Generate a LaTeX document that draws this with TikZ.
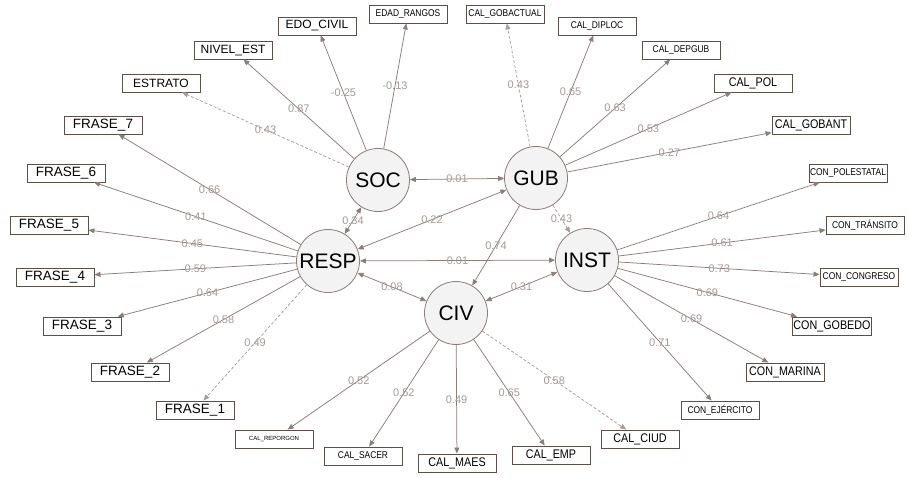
\documentclass[tikz,border=0pt]{standalone}
\usepackage{fontspec}
\setmainfont{Liberation Sans}
\newfontfamily\narrowfont[FakeStretch=0.86]{Liberation Sans}
\usetikzlibrary{arrows.meta}
\definecolor{linec}{HTML}{8C7D78}
\definecolor{boxc}{HTML}{5E4E4A}
\definecolor{coefc}{HTML}{A39A96}
\definecolor{latfill}{HTML}{F3F3F3}
\begin{document}
\begin{tikzpicture}[x=1pt,y=-1pt,
  lat/.style={circle,draw=linec,line width=0.8pt,fill=latfill,minimum size=63pt,inner sep=0pt,font=\fontsize{21}{21}\selectfont},
  obs/.style={rectangle,draw=boxc,line width=0.9pt,fill=white,minimum width=78pt,minimum height=18pt,inner xsep=1pt,inner ysep=0pt},
  fbig/.style={font=\fontsize{13.5}{14}\selectfont},
  fbc/.style={font=\narrowfont\fontsize{12.5}{13}\selectfont},
  fmed/.style={font=\fontsize{12}{12}\selectfont},
  fsm/.style={font=\narrowfont\fontsize{9.8}{10}\selectfont},
  ftiny/.style={font=\fontsize{6}{6}\selectfont},
  ld/.style={draw=linec,line width=0.75pt,-{Triangle[length=6pt,width=5pt]}},
  lb/.style={draw=linec,line width=0.75pt,{Triangle[length=6pt,width=5pt]}-{Triangle[length=6pt,width=5pt]}},
  dsh/.style={dash pattern=on 3pt off 2pt,draw=linec!75},
  coef/.style={font=\fontsize{11}{11}\selectfont,text=coefc,inner sep=0.5pt,midway},
]
\useasboundingbox[fill=white] (0,0) rectangle (909,477);

% latent variables
\node[lat] (SOC)  at (378,180) {SOC};
\node[lat] (GUB)  at (536,178) {GUB};
\node[lat] (RESP) at (328,261) {RESP};
\node[lat] (INST) at (587,260) {INST};
\node[lat] (CIV)  at (456,313) {CIV};

% SOC indicators
\node[obs,fmed] (ESTRATO) at (161,83) {ESTRATO};
\node[obs,fmed] (NIVEL)   at (233,50) {NIVEL\_EST};
\node[obs,fmed] (EDOC)    at (317,26) {EDO\_CIVIL};
\node[obs,fsm]  (EDAD)    at (408,14) {EDAD\_RANGOS};

% GUB indicators
\node[obs,fsm] (GOBACT) at (505,14) {CAL\_GOBACTUAL};
\node[obs,fsm] (DIPLOC) at (597,26) {CAL\_DIPLOC};
\node[obs,fsm] (DEPGUB) at (681,50) {CAL\_DEPGUB};
\node[obs,fbc] (CALPOL) at (753,83) {CAL\_POL};
\node[obs,fbc] (GOBANT) at (811,125) {CAL\_GOBANT};

% RESP indicators
\node[obs,fbig] (F7) at (103,125) {FRASE\_7};
\node[obs,fbig] (F6) at (66,173) {FRASE\_6};
\node[obs,fbig] (F5) at (49,225) {FRASE\_5};
\node[obs,fbig] (F4) at (55,277) {FRASE\_4};
\node[obs,fbig] (F3) at (82,326) {FRASE\_3};
\node[obs,fbig] (F2) at (130,372) {FRASE\_2};
\node[obs,fbig] (F1) at (195,410) {FRASE\_1};

% INST indicators
\node[obs,fsm] (POLEST) at (848,173) {CON\_POLESTATAL};
\node[obs,fsm] (TRANS)  at (865,225) {CON\_TRÁNSITO};
\node[obs,fsm] (CONG)   at (859,277) {CON\_CONGRESO};
\node[obs,fbc] (GOBEDO) at (832,326) {CON\_GOBEDO};
\node[obs,fbc] (MARINA) at (785,372) {CON\_MARINA};
\node[obs,fsm] (EJER)   at (720,410) {CON\_EJÉRCITO};

% CIV indicators
\node[obs,ftiny] (REPORG) at (274,439) {CAL\_REPORGON};
\node[obs,fsm]   (SACER)  at (363,456) {CAL\_SACER};
\node[obs,fbc]   (MAES)   at (457,463) {CAL\_MAES};
\node[obs,fbc]   (EMP)    at (551,455) {CAL\_EMP};
\node[obs,fbc]   (CIUD)   at (640,439) {CAL\_CIUD};

% SOC loadings
\draw[ld,dsh] (SOC) -- node[coef] {0.43} (ESTRATO);
\draw[ld] (SOC) -- node[coef] {0.87} (NIVEL);
\draw[ld] (SOC) -- node[coef] {-0.25} (EDOC);
\draw[ld] (SOC) -- node[coef] {-0.13} (EDAD);

% GUB loadings
\draw[ld,dsh] (GUB) -- node[coef] {0.43} (GOBACT);
\draw[ld] (GUB) -- node[coef] {0.65} (DIPLOC);
\draw[ld] (GUB) -- node[coef] {0.63} (DEPGUB);
\draw[ld] (GUB) -- node[coef] {0.53} (CALPOL);
\draw[ld] (GUB) -- node[coef] {0.27} (GOBANT);

% RESP loadings
\draw[ld] (RESP) -- node[coef] {0.66} (F7);
\draw[ld] (RESP) -- node[coef] {0.41} (F6);
\draw[ld] (RESP) -- node[coef] {0.45} (F5);
\draw[ld] (RESP) -- node[coef] {0.59} (F4);
\draw[ld] (RESP) -- node[coef] {0.64} (F3);
\draw[ld] (RESP) -- node[coef] {0.58} (F2);
\draw[ld,dsh] (RESP) -- node[coef] {0.49} (F1);

% INST loadings
\draw[ld] (INST) -- node[coef] {0.64} (POLEST);
\draw[ld] (INST) -- node[coef] {0.61} (TRANS);
\draw[ld] (INST) -- node[coef] {0.73} (CONG);
\draw[ld] (INST) -- node[coef] {0.69} (GOBEDO);
\draw[ld] (INST) -- node[coef] {0.69} (MARINA);
\draw[ld] (INST) -- node[coef] {0.71} (EJER);

% CIV loadings
\draw[ld] (CIV) -- node[coef] {0.52} (REPORG);
\draw[ld] (CIV) -- node[coef] {0.52} (SACER);
\draw[ld] (CIV) -- node[coef] {0.49} (MAES);
\draw[ld] (CIV) -- node[coef] {0.65} (EMP);
\draw[ld,dsh] (CIV) -- node[coef] {0.58} (CIUD);

% structural relations
\draw[lb] (SOC) -- node[coef] {0.01} (GUB);
\draw[lb] (SOC) -- node[coef] {0.34} (RESP);
\draw[lb] (RESP) -- node[coef] {0.22} (GUB);
\draw[lb] (RESP) -- node[coef] {0.01} (INST);
\draw[lb] (RESP) -- node[coef] {0.08} (CIV);
\draw[lb] (CIV) -- node[coef] {0.31} (INST);
\draw[ld] (GUB) -- node[coef] {0.74} (CIV);
\draw[ld,dsh] (GUB) -- node[coef] {0.43} (INST);
\end{tikzpicture}
\end{document}
